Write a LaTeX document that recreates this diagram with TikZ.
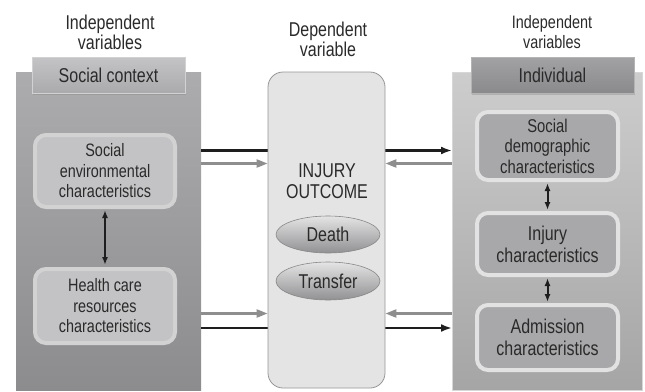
\documentclass[tikz,border=0pt]{standalone}
\usepackage{fontspec}
\setmainfont{Liberation Sans}[FakeStretch=0.8]
\usepackage{tikz}
\usetikzlibrary{arrows.meta,shadows,calc,positioning,shapes.geometric}
\definecolor{txt}{HTML}{2A2A2A}
\definecolor{blk}{HTML}{1E1E1E}
\definecolor{gry}{HTML}{8E8E8E}
\newcommand{\fs}[2]{\fontsize{#1}{#2}\selectfont}
\tikzset{
    x=1pt,y=-1pt,
    every node/.style={text=txt,align=center,inner sep=0pt},
    hdr/.style={font=\fs{20}{20}},
    panelL/.style={top color={rgb,255:red,172;green,172;blue,174},bottom color={rgb,255:red,140;green,140;blue,142}},
    panelR/.style={top color={rgb,255:red,205;green,205;blue,206},bottom color={rgb,255:red,165;green,165;blue,166},draw={rgb,255:red,215;green,215;blue,215},line width=1pt},
    tabL/.style={top color={rgb,255:red,196;green,196;blue,198},bottom color={rgb,255:red,170;green,170;blue,172},draw={rgb,255:red,210;green,210;blue,210},
        drop shadow={opacity=0.35,shadow xshift=1pt,shadow yshift=-2pt},font=\fs{20}{22}},
    tabR/.style={top color={rgb,255:red,162;green,162;blue,164},bottom color={rgb,255:red,138;green,138;blue,140},draw={rgb,255:red,180;green,180;blue,180},
        drop shadow={opacity=0.35,shadow xshift=1pt,shadow yshift=-2pt},font=\fs{20}{22}},
    cellL/.style={fill={rgb,255:red,195;green,195;blue,197},draw={rgb,255:red,210;green,210;blue,211},line width=4pt,rounded corners=11pt,font=\fs{18}{20.5}},
    cellR/.style={fill={rgb,255:red,168;green,168;blue,170},draw={rgb,255:red,226;green,226;blue,226},line width=4pt,rounded corners=11pt,font=\fs{20}{22}},
    outcome/.style={fill={rgb,255:red,228;green,228;blue,229},draw={rgb,255:red,150;green,150;blue,150},line width=0.8pt,rounded corners=15pt},
    pill/.style={ellipse,top color={rgb,255:red,228;green,228;blue,229},bottom color={rgb,255:red,145;green,145;blue,147},
        draw={rgb,255:red,135;green,135;blue,135},line width=0.6pt,font=\fs{20}{22}},
    main/.style={blk,line width=2.4pt,-{Latex[length=11pt,width=8pt]}},
    side/.style={gry,line width=2.2pt,-{Triangle[length=11pt,width=8pt]}},
    both/.style={blk,line width=2pt,{Latex[length=8pt,width=6pt]}-{Latex[length=8pt,width=6pt]}}
}
\begin{document}
\begin{tikzpicture}
    \useasboundingbox (0,0) rectangle (645,391);

    % headings
    \node[hdr] (h1) at (110,32) {Independent\\variables};
    \node[hdr] (h2) at (328,39) {Dependent\\variable};
    \node[hdr,font=\fs{18}{20}] (h3) at (552,32) {Independent\\variables};

    % the two side panels
    \node[panelL,minimum width=185,minimum height=318] (ctx) at (108.5,231) {};
    \node[panelR,minimum width=190,minimum height=318] (ind) at (547.5,231) {};

    \coordinate (r1) at (0,150.5);
    \coordinate (r2) at (0,163.5);
    \coordinate (r3) at (0,313.5);
    \coordinate (r4) at (0,328);

    % black connectors run behind the outcome box
    \draw[main] (ctx.east |- r1) -- (ind.west |- r1);
    \draw[main] (ctx.east |- r4) -- (ind.west |- r4);

    \node[outcome,minimum width=117,minimum height=316] (out) at (326.5,230) {};
    \node[font=\fs{20}{21}] (lbl) at (327,181) {INJURY\\OUTCOME};
    \node[pill,minimum width=104,minimum height=37] (d) at (328,234.5) {Death};
    \node[pill,minimum width=104,minimum height=38] (t) at (328,281) {Transfer};

    \node[tabL,minimum width=153,minimum height=36] (tab1) at (108.5,75) {Social context};
    \node[tabR,minimum width=163,minimum height=36] (tab2) at (552.5,75) {Individual};

    \node[cellL,minimum width=140,minimum height=72] (se) at (105,171) {Social\\environmental\\characteristics};
    \node[cellL,minimum width=140,minimum height=74] (hc) at (105,306) {Health care\\resources\\characteristics};

    \node[cellR,minimum width=141,minimum height=68,font=\fs{18.5}{20.5}] (sd) at (547.5,146) {Social\\demographic\\characteristics};
    \node[cellR,minimum width=141,minimum height=62] (ij) at (547.5,244) {Injury\\characteristics};
    \node[cellR,minimum width=141,minimum height=65] (ad) at (547.5,337.5) {Admission\\characteristics};

    \draw[side] (ctx.east |- r2) -- (out.west |- r2);
    \draw[side] (ctx.east |- r3) -- (out.west |- r3);
    \draw[side] (ind.west |- r2) -- (out.east |- r2);
    \draw[side] (ind.west |- r3) -- (out.east |- r3);

    \draw[both] ([yshift=-1pt]se.south) -- ([yshift=2pt]hc.north);
    \draw[both] ([yshift=-1pt]sd.south) -- ([yshift=1pt]ij.north);
    \draw[both] ([yshift=-1pt]ij.south) -- ([yshift=1pt]ad.north);
\end{tikzpicture}
\end{document}
